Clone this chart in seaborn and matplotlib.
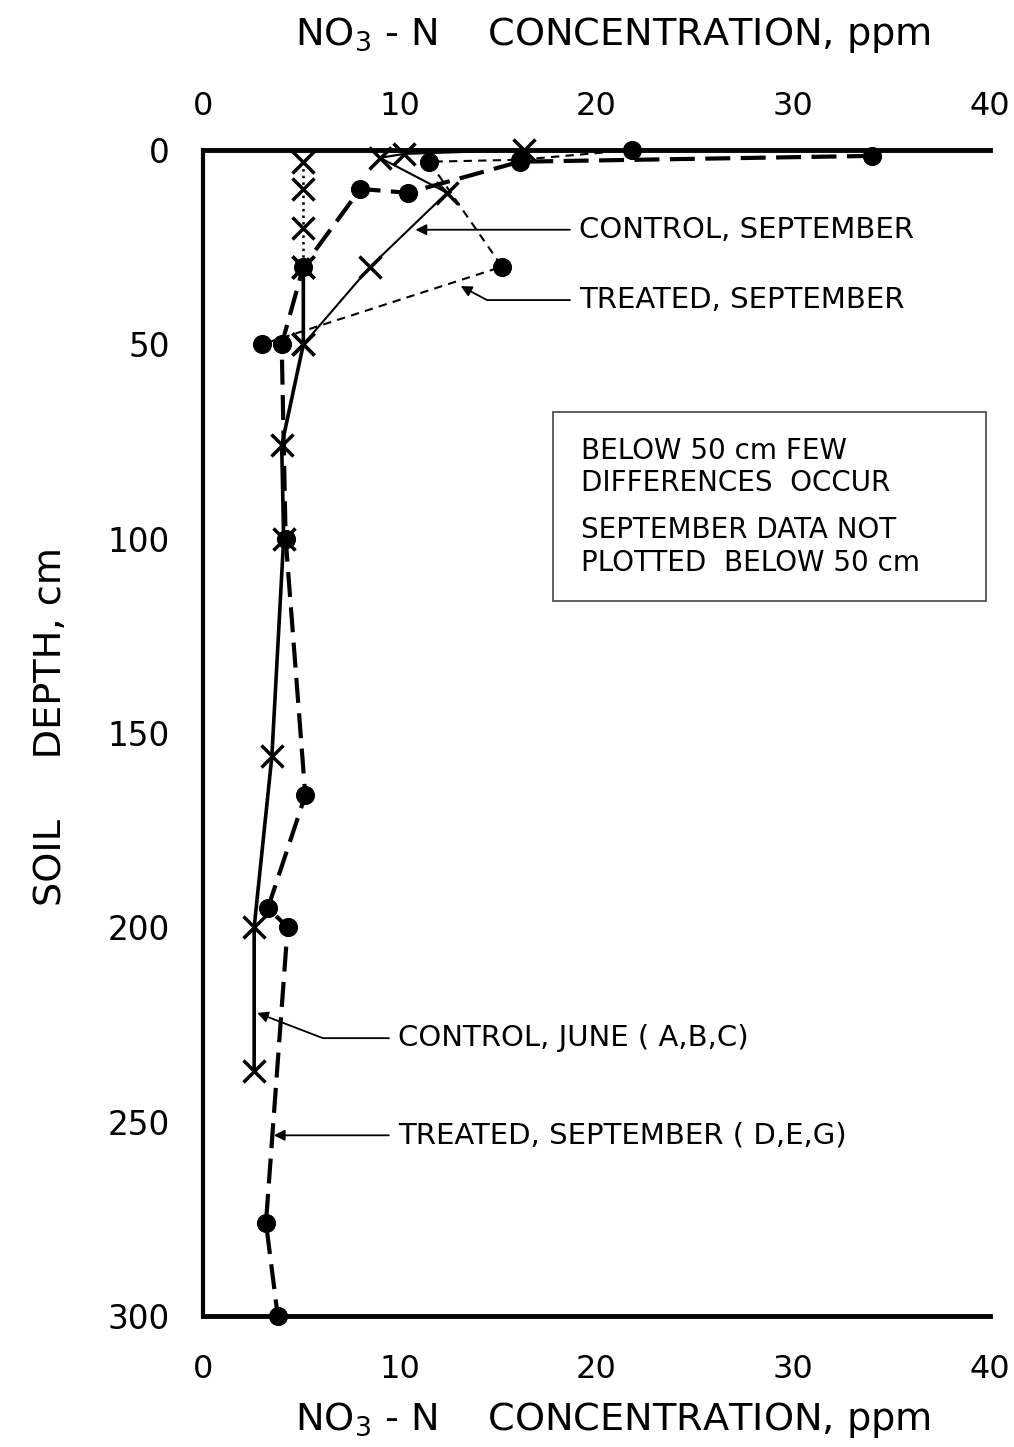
"""Soil NO3-N concentration profiles, control vs treated plots."""

import matplotlib

matplotlib.use("Agg")
import matplotlib.pyplot as plt
import pandas as pd
import seaborn as sns

# Control, June (A,B,C)  - crosses, solid line
cj_conc = [5.1, 5.1, 5.1, 5.1, 5.1, 4.0, 4.1, 3.5, 2.6, 2.6]
cj_depth = [3, 10, 20, 30, 50, 76, 100, 156, 200, 237]

# Treated, September (D,E,G) - dots, heavy long dashes
tj_conc = [34.0, 16.1, 10.4, 8.0, 5.1, 4.0, 4.2, 5.2, 3.3, 4.3, 3.2, 3.8]
tj_depth = [1.5, 3, 11, 10, 30, 50, 100, 166, 195, 200, 276, 300]

# Control, September - crosses, thin solid line
cs_conc = [16.3, 10.2, 9.0, 12.4, 8.5, 5.1]
cs_depth = [0, 1, 2, 11, 30, 50]

# Treated, September - dots, thin dashes
ts_conc = [21.8, 16.1, 11.5, 15.2, 3.0]
ts_depth = [0, 2.5, 3, 30, 50]

x_ticks = [0, 10, 20, 30, 40]
y_ticks = [0, 50, 100, 150, 200, 250, 300]

sns.set_theme(style="white")
plt.rcParams["font.family"] = ["DejaVu Sans"]
plt.rcParams.update({"text.color": "black", "xtick.color": "black",
                     "ytick.color": "black", "axes.labelcolor": "black"})

fig = plt.figure(figsize=(10.14, 14.47), dpi=100)
ax = fig.add_axes([0.2002, 0.0905, 0.7761, 0.8058])

x_kw = dict(marker="x", markersize=16, markeredgewidth=2.5)
o_kw = dict(marker="o", markersize=13)


def draw(conc, depth, **style):
    df = pd.DataFrame({"conc": conc, "depth": depth})
    sns.lineplot(data=df, x="conc", y="depth", sort=False, estimator=None,
                 color="black", markeredgecolor="black", clip_on=False,
                 ax=ax, **style)
    return df


# upper part of the June control profile is drawn dotted, the rest solid
cj = pd.DataFrame({"conc": cj_conc, "depth": cj_depth})
upper = cj[cj["depth"] <= 30]
lower = cj[cj["depth"] >= 30]
draw(upper["conc"].tolist(), upper["depth"].tolist(), linewidth=1.8,
     linestyle=":", **x_kw)
draw(lower["conc"].tolist(), lower["depth"].tolist(), linewidth=2.6,
     linestyle="-", **x_kw)
draw(tj_conc, tj_depth, linewidth=3.0, dashes=(6, 2.5), **o_kw)
draw(cs_conc, cs_depth, linewidth=1.5, linestyle="-", **x_kw)
draw(ts_conc, ts_depth, linewidth=1.5, dashes=(4, 3), **o_kw)

ax.set_xlim(0, 40)
ax.set_ylim(300, 0)
ax.set_xticks(x_ticks)
ax.set_yticks(y_ticks)
ax.tick_params(axis="x", which="both", top=False, bottom=False,
               labeltop=False, labelbottom=True, labelsize=23, pad=21)
ax.tick_params(axis="y", left=False, labelsize=23.5, pad=18)
ax.set_xlabel("")
ax.set_ylabel("")

top = ax.secondary_xaxis("top")
top.set_xticks(x_ticks)
top.tick_params(axis="x", top=False, labelsize=23, pad=14)
top.spines["top"].set_visible(False)

for side in ["top", "bottom"]:
    ax.spines[side].set_linewidth(3.5)
    ax.spines[side].set_color("black")
ax.spines["left"].set_linewidth(3.0)
ax.spines["left"].set_color("black")
ax.spines["right"].set_visible(False)

label = r"NO$_3$ - N    CONCENTRATION, ppm"
fig.text(0.604, 0.976, label, ha="center", va="center", fontsize=27.5)
fig.text(0.604, 0.019, label, ha="center", va="center", fontsize=27.5)
fig.text(0.05, 0.498, "SOIL     DEPTH, cm", rotation=90, ha="center",
         va="center", fontsize=27.5)

arrow = dict(arrowstyle="-|>", color="black", lw=1.3, mutation_scale=16,
             shrinkA=4, shrinkB=0)
ax.annotate("CONTROL, SEPTEMBER", xy=(10.8, 20.5), xytext=(19.1, 20.5),
            fontsize=21, va="center", ha="left", arrowprops=arrow)
ax.annotate("TREATED, SEPTEMBER", xy=(13.1, 35), xytext=(19.1, 38.6),
            fontsize=21, va="center", ha="left",
            arrowprops=dict(arrow, connectionstyle="angle,angleA=0,angleB=-28,rad=0"))
ax.annotate("CONTROL, JUNE ( A,B,C)", xy=(2.75, 222), xytext=(9.9, 228.5),
            fontsize=21, va="center", ha="left",
            arrowprops=dict(arrow, connectionstyle="angle,angleA=0,angleB=-21,rad=0"))
ax.annotate("TREATED, SEPTEMBER ( D,E,G)", xy=(3.6, 253.5), xytext=(9.9, 253.5),
            fontsize=21, va="center", ha="left", arrowprops=arrow)

ax.add_patch(plt.Rectangle((17.8, 67.4), 22.0, 48.6, fill=False,
                           edgecolor="#444444", linewidth=1.2))
ax.text(19.2, 81.5, "BELOW 50 cm FEW\nDIFFERENCES  OCCUR", fontsize=20,
        va="center", ha="left", linespacing=1.2)
ax.text(19.2, 102, "SEPTEMBER DATA NOT\nPLOTTED  BELOW 50 cm", fontsize=20,
        va="center", ha="left", linespacing=1.2)

fig.savefig("out.png", dpi=100, facecolor="white")
